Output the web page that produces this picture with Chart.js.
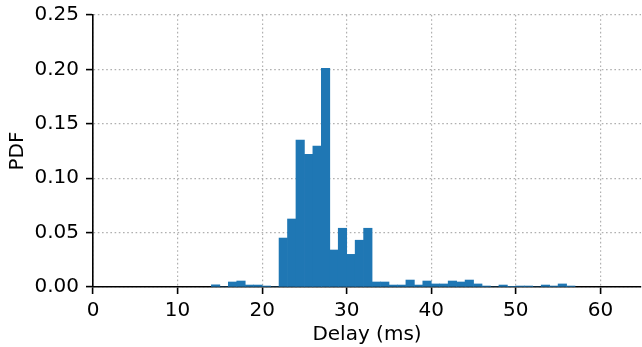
<!DOCTYPE html>
<html>
<head>
<meta charset="utf-8">
<script src="https://cdn.jsdelivr.net/npm/chart.js@4"></script>
<style>
    html, body { margin: 0; padding: 0; background: #fff; overflow: hidden; }
    #wrap { width: 642px; height: 347px; }
</style>
</head>
<body>
<div id="wrap"><canvas id="graficoDelay"></canvas></div>
<script>
// histogram bins (left edge, ms) and PDF heights
const delayBins = [14, 15, 16, 17, 18, 19, 20, 21, 22, 23, 24, 25, 26, 27, 28, 29, 30, 31, 32, 33, 34,
    35, 36, 37, 38, 39, 40, 41, 42, 43, 44, 45, 46, 47, 48, 49, 50, 51, 52, 53, 54, 55, 56];
const pdfValues = [0.002, 0, 0.0046, 0.0055, 0.0018, 0.0018, 0.0009, 0, 0.045, 0.0625, 0.135, 0.122, 0.1295,
    0.201, 0.034, 0.054, 0.030, 0.043, 0.054, 0.0046, 0.0046, 0.0018, 0.0018, 0.0064, 0.0018, 0.0055,
    0.0028, 0.0028, 0.0055, 0.0046, 0.0064, 0.0028, 0.0009, 0, 0.0018, 0.0005, 0.0009, 0.0009, 0,
    0.0018, 0.0009, 0.0028, 0.0009];
const xTicks = [0, 10, 20, 30, 40, 50, 60];
const yTicks = [0, 0.05, 0.10, 0.15, 0.20, 0.25];
const binWidth = 1;
const xMax = 64.8;

const font = { family: 'DejaVu Sans', size: 20 };
const ctx = document.getElementById('graficoDelay').getContext('2d');

const puntos = delayBins.map((b, i) => ({ x: b + binWidth / 2, y: pdfValues[i] }));

new Chart(ctx, {
    type: 'bar',
    data: {
        datasets: [{
            data: puntos,
            backgroundColor: '#1f77b4',
            borderWidth: 0,
            barPercentage: 1,
            categoryPercentage: 1
        }]
    },
    options: {
        responsive: true,
        maintainAspectRatio: false,
        animation: false,
        events: [],
        layout: { padding: { top: 15, right: 1, left: 0, bottom: 0 } },
        plugins: { legend: { display: false }, tooltip: { enabled: false } },
        scales: {
            x: {
                type: 'linear',
                min: 0,
                max: xMax,
                offset: false,
                z: 1,
                afterBuildTicks: s => { s.ticks = xTicks.map(v => ({ value: v })); },
                afterFit: s => { s.height = 60; },
                ticks: { font: font, color: '#000', padding: 5, maxRotation: 0, autoSkip: false },
                grid: {
                    offset: false,
                    color: '#b0b0b0', lineWidth: 1.2,
                    tickLength: 7, tickColor: '#000', tickWidth: 1.6, tickBorderDash: []
                },
                border: { display: true, color: '#000', width: 1.6, dash: [1.6, 2.6] },
                title: { display: true, text: 'Delay (ms)', font: font, color: '#000', padding: { top: 0, bottom: 0 } }
            },
            y: {
                min: 0,
                max: 0.25,
                z: 1,
                afterBuildTicks: s => { s.ticks = yTicks.map(v => ({ value: v })); },
                afterFit: s => { s.width = 93; s.paddingTop = 0; s.paddingBottom = 0; },
                ticks: { font: font, color: '#000', padding: 7, callback: v => v.toFixed(2) },
                grid: {
                    color: '#b0b0b0', lineWidth: 1.2,
                    tickLength: 7, tickColor: '#000', tickWidth: 1.6, tickBorderDash: []
                },
                border: { display: true, color: '#000', width: 1.6, dash: [1.6, 2.6] },
                title: { display: true, text: 'PDF', font: font, color: '#000', padding: { top: 6, bottom: 0 } }
            }
        }
    }
});
</script>
</body>
</html>
